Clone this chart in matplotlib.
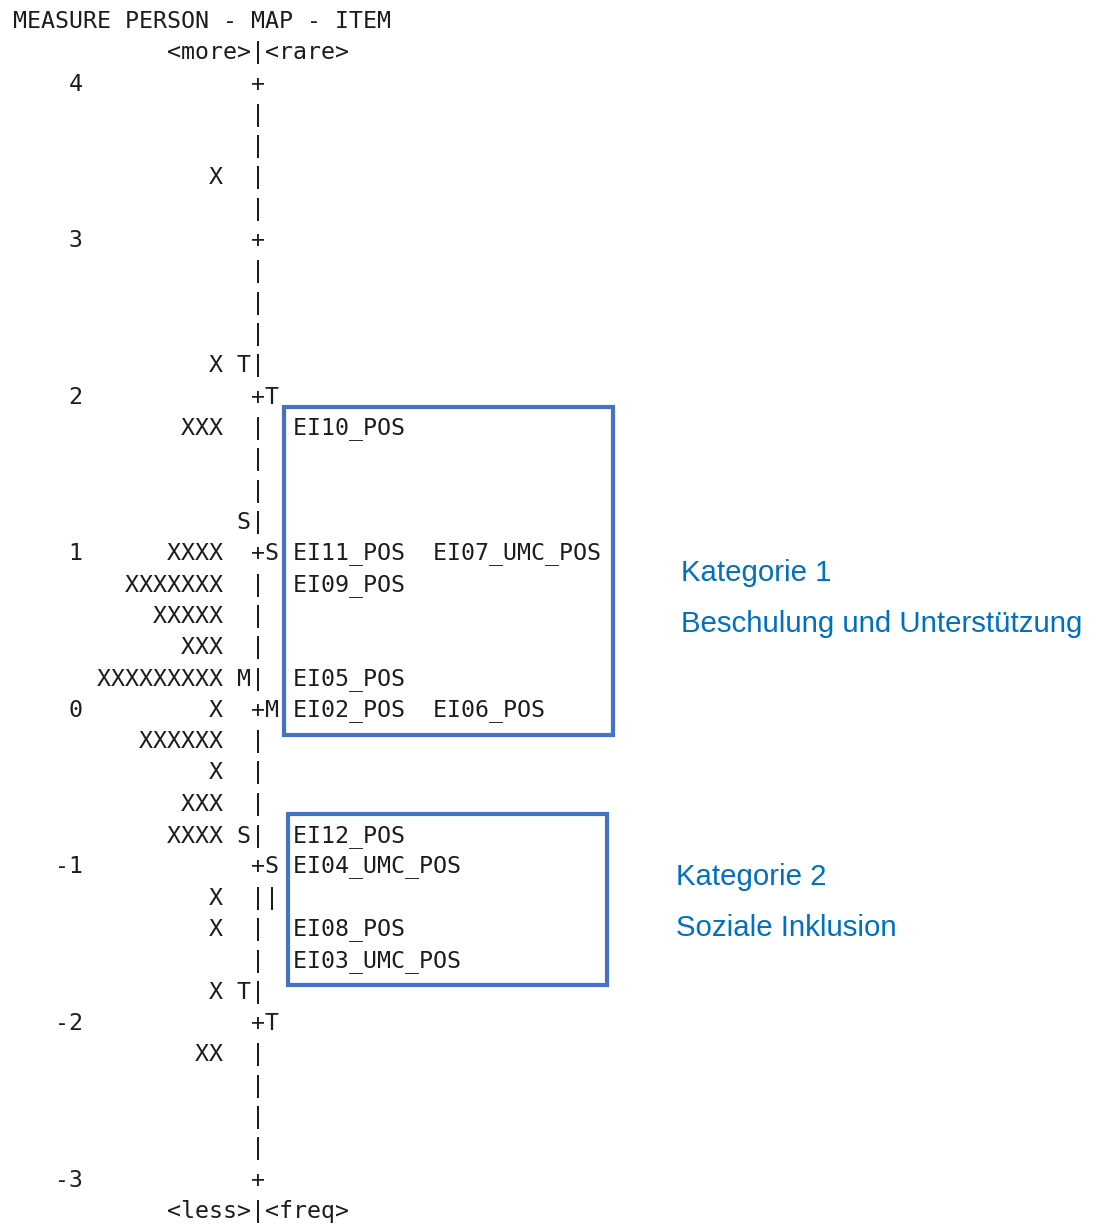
import matplotlib
matplotlib.use('Agg')
import matplotlib.pyplot as plt
from matplotlib.patches import Rectangle

# Winsteps person-item map, one row every 0.2 logits from 4 down to -3
measures = [4.0, 3.8, 3.6, 3.4, 3.2, 3.0, 2.8, 2.6, 2.4, 2.2,
            2.0, 1.8, 1.6, 1.4, 1.2, 1.0, 0.8, 0.6, 0.4, 0.2,
            0.0, -0.2, -0.4, -0.6, -0.8, -1.0, -1.2, -1.4, -1.6, -1.8,
            -2.0, -2.2, -2.4, -2.6, -2.8, -3.0]
person_counts = [0, 0, 0, 1, 0, 0, 0, 0, 0, 1,
                 0, 3, 0, 0, 0, 4, 7, 5, 3, 9,
                 1, 6, 1, 3, 4, 0, 1, 1, 0, 1,
                 0, 2, 0, 0, 0, 0]
person_marks = {2.2: 'T', 1.2: 'S', 0.2: 'M', -0.8: 'S', -1.8: 'T'}
item_marks = {2.0: 'T', 1.0: 'S', 0.0: 'M', -1.0: 'S', -2.0: 'T', -1.2: '|'}
items = {
    1.8: ['EI10_POS'],
    1.0: ['EI11_POS', 'EI07_UMC_POS'],
    0.8: ['EI09_POS'],
    0.2: ['EI05_POS'],
    0.0: ['EI02_POS', 'EI06_POS'],
    -0.8: ['EI12_POS'],
    -1.0: ['EI04_UMC_POS'],
    -1.4: ['EI08_POS'],
    -1.6: ['EI03_UMC_POS'],
}
categories = [
    ('Kategorie 1', 'Beschulung und Unterstützung',
     ['EI10_POS', 'EI11_POS', 'EI07_UMC_POS', 'EI09_POS', 'EI05_POS', 'EI02_POS', 'EI06_POS']),
    ('Kategorie 2', 'Soziale Inklusion',
     ['EI12_POS', 'EI04_UMC_POS', 'EI08_POS', 'EI03_UMC_POS']),
]
title = 'MEASURE PERSON - MAP - ITEM'
top_label = '<more>|<rare>'
bottom_label = '<less>|<freq>'

mono = dict(family='DejaVu Sans Mono', fontsize=16.74, color='#1c1c1c',
            ha='left', va='center')
blue = '#0070C0'

fig = plt.figure(figsize=(11.05, 12.27), dpi=100)
ax = fig.add_axes([0, 0, 1, 1])
# x in character columns, y in logits
ax.set_xlim(-13 / 14, (1105 - 13) / 14)
ax.set_ylim(-3.300, 4.5365)
ax.axis('off')

ax.text(0, 4.4, title, **mono)
ax.text(0, 4.2, ' ' * 11 + top_label, **mono)
ax.text(0, -3.2, ' ' * 11 + bottom_label, **mono)

for m, n in zip(measures, person_counts):
    whole = abs(m - round(m)) < 1e-9
    label = f'{int(round(m)):5d}' if whole else ' ' * 5
    persons = ('X' * n).rjust(10)
    axis_char = '+' if whole else '|'
    row = (label + persons + ' ' + person_marks.get(m, ' ') + axis_char
           + item_marks.get(m, ' ') + ' ' + '  '.join(items.get(m, [])))
    ax.text(0, m, row.rstrip(), **mono)

# boxes around each item group
item_measure = {name: m for m, names in items.items() for name in names}
label_pos = [(47.7, 0.878, 0.552), (47.36, -1.064, -1.389)]
box_x = [(19.36, 42.86), (19.64, 42.43)]
for (head, sub, names), (lx, y1, y2), (x0, x1) in zip(categories, label_pos, box_x):
    ms = [item_measure[nm] for nm in names]
    top = max(ms) + 0.135
    bottom = min(ms) - 0.155
    ax.add_patch(Rectangle((x0, bottom), x1 - x0, top - bottom, fill=False,
                           ec='#4472C4', lw=3))
    ax.text(lx, y1, head, family='Liberation Sans', fontsize=21.2, color=blue,
            ha='left', va='center')
    ax.text(lx, y2, sub, family='Liberation Sans', fontsize=21.2, color=blue,
            ha='left', va='center')

fig.savefig('out.png', dpi=100)
